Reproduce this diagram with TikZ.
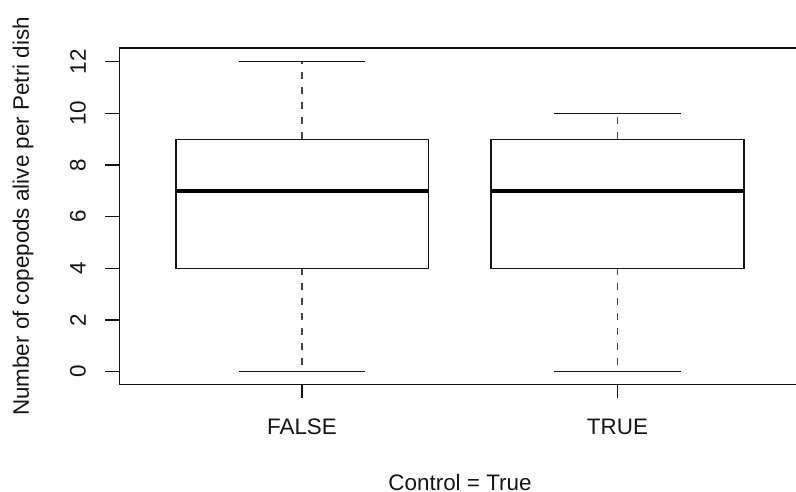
\documentclass[tikz,border=0pt]{standalone}
\usepackage{fontspec}
\setmainfont{Liberation Sans}
\usepackage{tikz}
\usetikzlibrary{positioning, calc}
\definecolor{plotink}{RGB}{20,20,20}
\definecolor{whiskink}{RGB}{70,70,70}
\tikzset{
  frame/.style={line width=1.4bp, color=plotink},
  tickline/.style={line width=1.2bp, color=plotink},
  boxline/.style={line width=1.3bp, color=plotink},
  medianline/.style={line width=4bp, color=black},
  whisker/.style={line width=1.2bp, color=whiskink, dash pattern=on 7bp off 8bp},
  capline/.style={line width=1.2bp, color=plotink},
  axlabel/.style={font=\fontsize{22.5}{26}\selectfont, color=plotink, inner sep=0pt}
}

\begin{document}
\begin{tikzpicture}[x=1bp, y=-1bp]
  \useasboundingbox (0,0) rectangle (796,492);

  % Draw frame (right side runs off the page)
  \draw[frame] (796,48) -- (119.5,48) -- (119.5,384.5) -- (796,384.5);

  % Y ticks and labels, 25.83 per unit, 0 at 371.7
  \foreach \v in {0,2,...,12} {
    \draw[tickline] (105,{371.7-25.83*\v}) -- (119.5,{371.7-25.83*\v});
    \node[axlabel, rotate=90] (y\v) at (78,{371.7-25.83*\v}) {\v};
  }

  % X ticks and labels
  \draw[tickline] (302,384.5) -- (302,398);
  \draw[tickline] (617.5,384.5) -- (617.5,398);
  \node[axlabel] (xfalse) at (302,427) {FALSE};
  \node[axlabel] (xtrue) at (617.5,427) {TRUE};

  % Axis titles
  \node[axlabel] (xtitle) at (460,482) {Control = True};
  \node[axlabel, rotate=90] (ytitle) at (23,216.5) {Number of copepods alive per Petri dish};

  % FALSE group: whiskers 0..12, box 4..9, median 7
  \draw[whisker] (302,139.2) -- (302,61.7);
  \draw[whisker] (302,268.4) -- (302,371.7);
  \draw[capline] (239,61.7) -- (365,61.7);
  \draw[capline] (239,371.7) -- (365,371.7);
  \draw[boxline, fill=white] (176,139.2) rectangle (428.5,268.4);
  \draw[medianline] (176,190.9) -- (428.5,190.9);

  % TRUE group: whiskers 0..10, box 4..9, median 7
  \draw[whisker] (617.5,139.2) -- (617.5,113.4);
  \draw[whisker] (617.5,268.4) -- (617.5,371.7);
  \draw[capline] (554,113.4) -- (681,113.4);
  \draw[capline] (554,371.7) -- (681,371.7);
  \draw[boxline, fill=white] (491,139.2) rectangle (744,268.4);
  \draw[medianline] (491,190.9) -- (744,190.9);
\end{tikzpicture}
\end{document}
